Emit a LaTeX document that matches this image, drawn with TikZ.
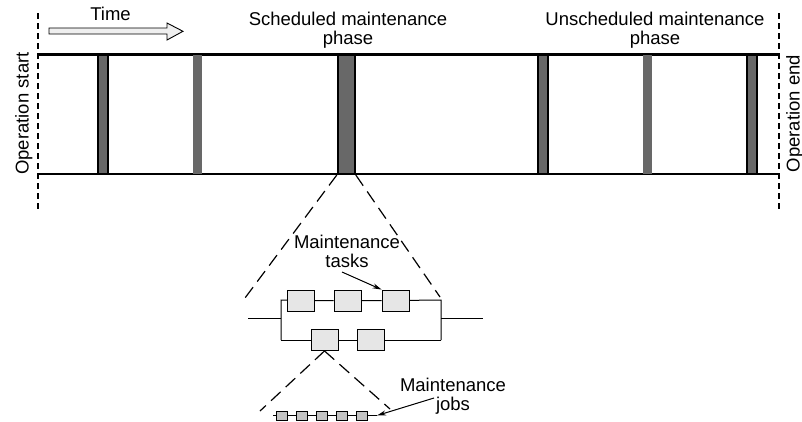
\documentclass[tikz,border=0pt]{standalone}
\usepackage{fontspec}
\setmainfont{Liberation Sans}
\usetikzlibrary{arrows.meta}
\definecolor{barfill}{HTML}{686868}
\definecolor{taskfill}{HTML}{E6E6E6}
\definecolor{jobfill}{HTML}{C4C4C4}
\definecolor{arrowfill}{HTML}{EFEFEF}
\tikzset{
  lbl/.style={font=\fontsize{18.5}{19}\selectfont, inner sep=0pt, align=center},
  rail/.style={line width=2.4pt},
  limit/.style={line width=1.3pt, dash pattern=on 6pt off 4pt},
  zoomline/.style={line width=1.2pt, dash pattern=on 13pt off 7pt},
  framedbar/.style={draw, line width=2pt, fill=barfill, minimum height=119.5pt, inner sep=0pt},
  plainbar/.style={fill=barfill, minimum height=119.5pt, inner sep=0pt},
  task/.style={draw, line width=0.9pt, fill=taskfill, minimum width=27pt, minimum height=21pt, inner sep=0pt},
  job/.style={draw, line width=0.8pt, fill=jobfill, minimum width=11pt, minimum height=9pt, inner sep=0pt},
  wire/.style={line width=1pt},
  pointer/.style={line width=1pt, -{Stealth[length=9pt,width=5pt]}}
}
\begin{document}
\begin{tikzpicture}[x=1pt,y=-1pt]
\useasboundingbox (0,0) rectangle (802,421);

% operation limits
\coordinate (st) at (38,13);  \coordinate (sb) at (38,212);
\coordinate (et) at (779,13); \coordinate (eb) at (779,210);
\draw[limit] (st) -- (sb);
\draw[limit] (et) -- (eb);

% time line rails
\coordinate (tl) at (38,54.5);  \coordinate (tr) at (779,54.5);
\coordinate (bl) at (38,174); \coordinate (br) at (779,174);
\draw[rail] (tl) -- (tr);
\draw[rail] (bl) -- (br);

% maintenance phases
\node[framedbar, minimum width=10pt] (b1) at (103,114.25) {};
\node[plainbar,  minimum width=9pt]  (b2) at (197.5,114.25) {};
\node[framedbar, minimum width=17pt] (b3) at (346.3,114.25) {};
\node[framedbar, minimum width=10pt] (b4) at (543,114.25) {};
\node[plainbar,  minimum width=9pt]  (b5) at (647.5,114.25) {};
\node[framedbar, minimum width=10pt] (b6) at (752,114.25) {};

% time arrow
\node[lbl, anchor=base] (time) at (110.5,20) {Time};
\draw[line width=0.9pt, fill=arrowfill]
  (49,28) -- (167,28) -- (167,23) -- (183,31.3) -- (167,40) -- (167,34) -- (49,34) -- cycle;

% headings
\node[lbl] (sched) at (348,30) {Scheduled maintenance\\phase};
\node[lbl] (unsched) at (655,30) {Unscheduled maintenance\\phase};
\node[lbl, rotate=90, anchor=base] (opstart) at (28.5,113.5) {Operation start};
\node[lbl, rotate=90, anchor=base] (opend) at (799.5,113.5) {Operation end};

% task network
\coordinate (in) at (248,318);  \coordinate (jl) at (281,318);
\coordinate (jr) at (441,318);  \coordinate (out) at (483,318);
\coordinate (jlt) at (281,300); \coordinate (jlb) at (281,340);
\coordinate (jrt) at (441,300); \coordinate (jrb) at (441,340);
\node[task] (t1) at (301,300.5) {};
\node[task] (t2) at (347.5,300.5) {};
\node[task] (t3) at (395.5,300.5) {};
\node[task] (t4) at (324.5,340) {};
\node[task] (t5) at (371,340) {};
\draw[wire] (in) -- (jl) (jr) -- (out);
\draw[wire] (jlb) -- (jlt) -- (t1) -- (t2) -- (t3) -- (jrt) -- (jrb);
\draw[wire] (jlb) -- (t4) -- (t5) -- (jrb);

% zoom from the scheduled phase onto its tasks
\coordinate (zl) at (242,302);
\coordinate (zr) at (440,297);
\draw[zoomline] (b3.south west) -- (zl);
\draw[zoomline] (b3.south east) -- (zr);

\node[lbl] (tasks) at (347,251) {Maintenance\\tasks};
\draw[pointer] (342,272) -- (t3.north west);

% job chain
\coordinate (ja) at (273,415.5); \coordinate (jb) at (377,415.5);
\draw[wire] (ja) -- (jb);
\foreach \i/\x in {1/281.5,2/301.5,3/321.5,4/341.5,5/362}
  \node[job] (j\i) at (\x,415.5) {};

% zoom from one task onto its jobs
\coordinate (yl) at (260,411);
\coordinate (yr) at (390,409);
\draw[zoomline] (t4.south) -- (yl);
\draw[zoomline] (t4.south) -- (yr);

\node[lbl] (jobs) at (453,396.5) {Maintenance\\jobs};
\draw[pointer] (434,398) -- (jb);
\end{tikzpicture}
\end{document}
